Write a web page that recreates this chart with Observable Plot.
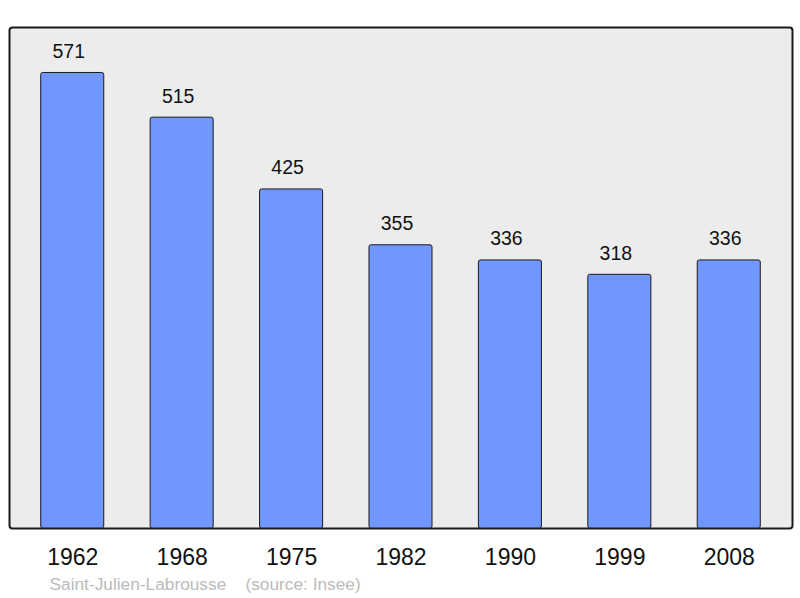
<!DOCTYPE html>
<html>
<head>
<meta charset="utf-8">
<script src="https://cdn.jsdelivr.net/npm/d3@7"></script>
<script src="https://cdn.jsdelivr.net/npm/@observablehq/plot@0.6"></script>
<style>
  html, body { margin: 0; padding: 0; background: #ffffff; }
  #chart svg { display: block; }
</style>
</head>
<body>
<div id="chart"></div>
<script>
const years = ["1962", "1968", "1975", "1982", "1990", "1999", "2008"];
const population = [571, 515, 425, 355, 336, 318, 336];
const commune = "Saint-Julien-Labrousse";
const source = "(source: Insee)";

const data = years.map((year, i) => ({year, value: population[i]}));

const chart = Plot.plot({
  width: 800,
  height: 598,
  marginLeft: 9,
  marginRight: 8,
  marginTop: 27,
  marginBottom: 70,
  style: {fontFamily: "'Liberation Sans', Arial, sans-serif", background: "#ffffff"},
  x: {domain: years, paddingInner: 0.424, paddingOuter: 0.29, round: false, label: null},
  y: {domain: [0, 628], axis: null},
  marks: [
    Plot.frame({fill: "#ececec", stroke: "#1a1a1a", strokeWidth: 2, rx: 3}),
    Plot.barY(data, {x: "year", y: "value", fill: "#7096ff", stroke: "#1a1a1a", strokeWidth: 1, rx: 2}),
    Plot.text(data, {x: "year", y: "value", text: d => String(d.value), lineAnchor: "bottom", dx: -4, dy: -15, fontSize: 19.5, fill: "#111"}),
    Plot.axisX({tickSize: 0, tickPadding: 20, fontSize: 23, fill: "#111", label: null}),
    Plot.text([commune + "\u00a0\u00a0\u00a0\u00a0" + source], {frameAnchor: "bottom-left", dx: 40, dy: 61, lineAnchor: "bottom", textAnchor: "start", fontSize: 17.3, fill: "#bbbbbb"})
  ]
});
document.getElementById("chart").appendChild(chart);
</script>
</body>
</html>
